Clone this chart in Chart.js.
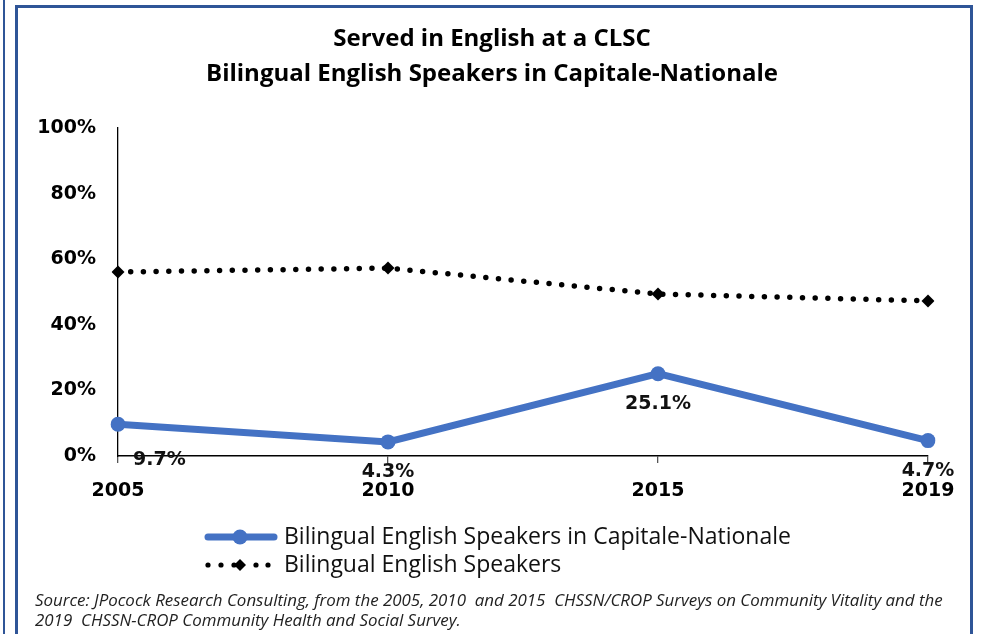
<!DOCTYPE html>
<html>
<head>
<meta charset="utf-8">
<script src="https://cdn.jsdelivr.net/npm/chart.js@4.4.1/dist/chart.umd.min.js"></script>
<style>
  html, body { margin:0; padding:0; background:#fff; width:984px; height:634px; overflow:hidden; }
  .edge  { position:absolute; left:3px; top:0; width:2px; height:634px; background:#2F5597; }
  .frame { position:absolute; left:15px; top:5px; width:952px; height:660px; border:3px solid #2F5597; box-sizing:content-box; }
  #wrap  { position:absolute; left:0; top:0; width:984px; height:634px; }
  .source { position:absolute; left:35px; top:590px; font-family:'Open Sans', sans-serif; font-style:italic; font-size:16.9px; line-height:20px; color:#222; white-space:pre; }
</style>
</head>
<body>
<div class="edge"></div>
<div class="frame"></div>
<div id="wrap"><canvas id="chart" width="984" height="634"></canvas></div>
<div class="source">Source: JPocock Research Consulting, from the 2005, 2010  and 2015  CHSSN/CROP Surveys on Community Vitality and the
2019  CHSSN-CROP Community Health and Social Survey.</div>
<script>
// ── DATA ────────────────────────────────────────────────────
const years         = ['2005', '2010', '2015', '2019'];
const capitaleVals  = [9.7, 4.3, 25.1, 4.7];
const bilingualVals = [56.1, 57.3, 49.4, 47.3];
const seriesNames   = ['Bilingual English Speakers in Capitale-Nationale', 'Bilingual English Speakers'];
const titleLines    = ['Served in English at a CLSC', 'Bilingual English Speakers in Capitale-Nationale'];

const BLUE = '#4472C4';

// value labels under the blue points
const valueLabels = {
  id: 'valueLabels',
  afterDatasetsDraw(chart) {
    const ctx = chart.ctx;
    const bottom = chart.chartArea.bottom;
    const pts = chart.getDatasetMeta(0).data;
    ctx.save();
    ctx.font = 'bold 19px "DejaVu Sans", sans-serif';
    ctx.fillStyle = '#111';
    ctx.textBaseline = 'middle';
    pts.forEach((p, i) => {
      const y = i === 0 ? Math.max(p.y + 30, bottom + 4) : p.y + 30;
      ctx.textAlign = i === 0 ? 'left' : 'center';
      ctx.fillText(capitaleVals[i].toFixed(1) + '%', i === 0 ? p.x + 15 : p.x, y);
    });
    ctx.restore();
  }
};

// stacked legend, left aligned like the original
const stackLegend = {
  id: 'stackLegend',
  afterDraw(chart) {
    const ctx = chart.ctx;
    const x0 = 205, x1 = 277, rows = [537, 565];
    const cx = 240;
    ctx.save();
    ctx.font = '23px "Open Sans", sans-serif';
    ctx.textBaseline = 'middle';
    ctx.textAlign = 'left';
    // row 1: solid blue with circle
    ctx.strokeStyle = BLUE; ctx.lineWidth = 7; ctx.lineCap = 'round';
    ctx.beginPath(); ctx.moveTo(x0 + 3, rows[0]); ctx.lineTo(x1 - 3, rows[0]); ctx.stroke();
    ctx.fillStyle = BLUE;
    ctx.beginPath(); ctx.arc(cx, rows[0], 7.5, 0, Math.PI * 2); ctx.fill();
    // row 2: dots with diamond
    ctx.fillStyle = '#000';
    [208, 221, 234, 256, 268].forEach(dx => { ctx.beginPath(); ctx.arc(dx, rows[1], 2.6, 0, Math.PI * 2); ctx.fill(); });
    ctx.beginPath(); ctx.moveTo(cx, rows[1] - 6); ctx.lineTo(cx + 6, rows[1]); ctx.lineTo(cx, rows[1] + 6); ctx.lineTo(cx - 6, rows[1]); ctx.closePath(); ctx.fill();
    ctx.fillStyle = '#111';
    ctx.fillText(seriesNames[0], x1 + 7, rows[0]);
    ctx.fillText(seriesNames[1], x1 + 7, rows[1]);
    ctx.restore();
  }
};

new Chart(document.getElementById('chart'), {
  type: 'line',
  data: {
    labels: years,
    datasets: [
      { label: seriesNames[0], data: capitaleVals, borderColor: BLUE, backgroundColor: BLUE, borderWidth: 7,
        pointRadius: 7.5, pointStyle: 'circle', pointBackgroundColor: BLUE, pointBorderWidth: 0, tension: 0, order: 0 },
      { label: seriesNames[1], data: bilingualVals, borderColor: '#000', backgroundColor: '#000', borderWidth: 5.5,
        borderDash: [0, 12.7], borderCapStyle: 'round', pointRadius: 6.5, pointStyle: 'rectRot',
        pointBackgroundColor: '#000', pointBorderWidth: 0, tension: 0, order: 1 }
    ]
  },
  options: {
    responsive: false,
    animation: false,
    layout: { padding: { left: 0, right: 0, top: 0, bottom: 128 } },
    plugins: {
      legend: { display: false },
      tooltip: { enabled: false },
      title: {
        display: true, text: titleLines, color: '#000',
        font: { family: 'Open Sans', size: 24, weight: 'bold', lineHeight: 1.46 },
        padding: { top: 22, bottom: 36 }
      }
    },
    scales: {
      x: {
        offset: false,
        grid: { display: true, drawOnChartArea: false, drawTicks: true, tickLength: 7, color: '#555', lineWidth: 1.3 },
        border: { display: true, color: '#000', width: 1.5 },
        ticks: { color: '#000', font: { family: 'DejaVu Sans', size: 19, weight: 'bold' }, padding: 17, maxRotation: 0 },
        afterFit: s => { s.height = 50; }
      },
      y: {
        min: 0, max: 100,
        grid: { display: false },
        border: { display: true, color: '#000', width: 1.3 },
        ticks: { stepSize: 20, color: '#000', padding: 14, callback: v => v + '%',
                 font: { family: 'DejaVu Sans', size: 19, weight: 'bold' } },
        afterFit: s => { s.width = 118; }
      },
      // empty right-hand margin so the plot ends where the original does
      yRight: {
        position: 'right', display: true, min: 0, max: 100,
        grid: { display: false }, border: { display: false }, ticks: { display: false },
        afterFit: s => { s.width = 56; }
      }
    }
  },
  plugins: [valueLabels, stackLegend]
});
</script>
</body>
</html>
